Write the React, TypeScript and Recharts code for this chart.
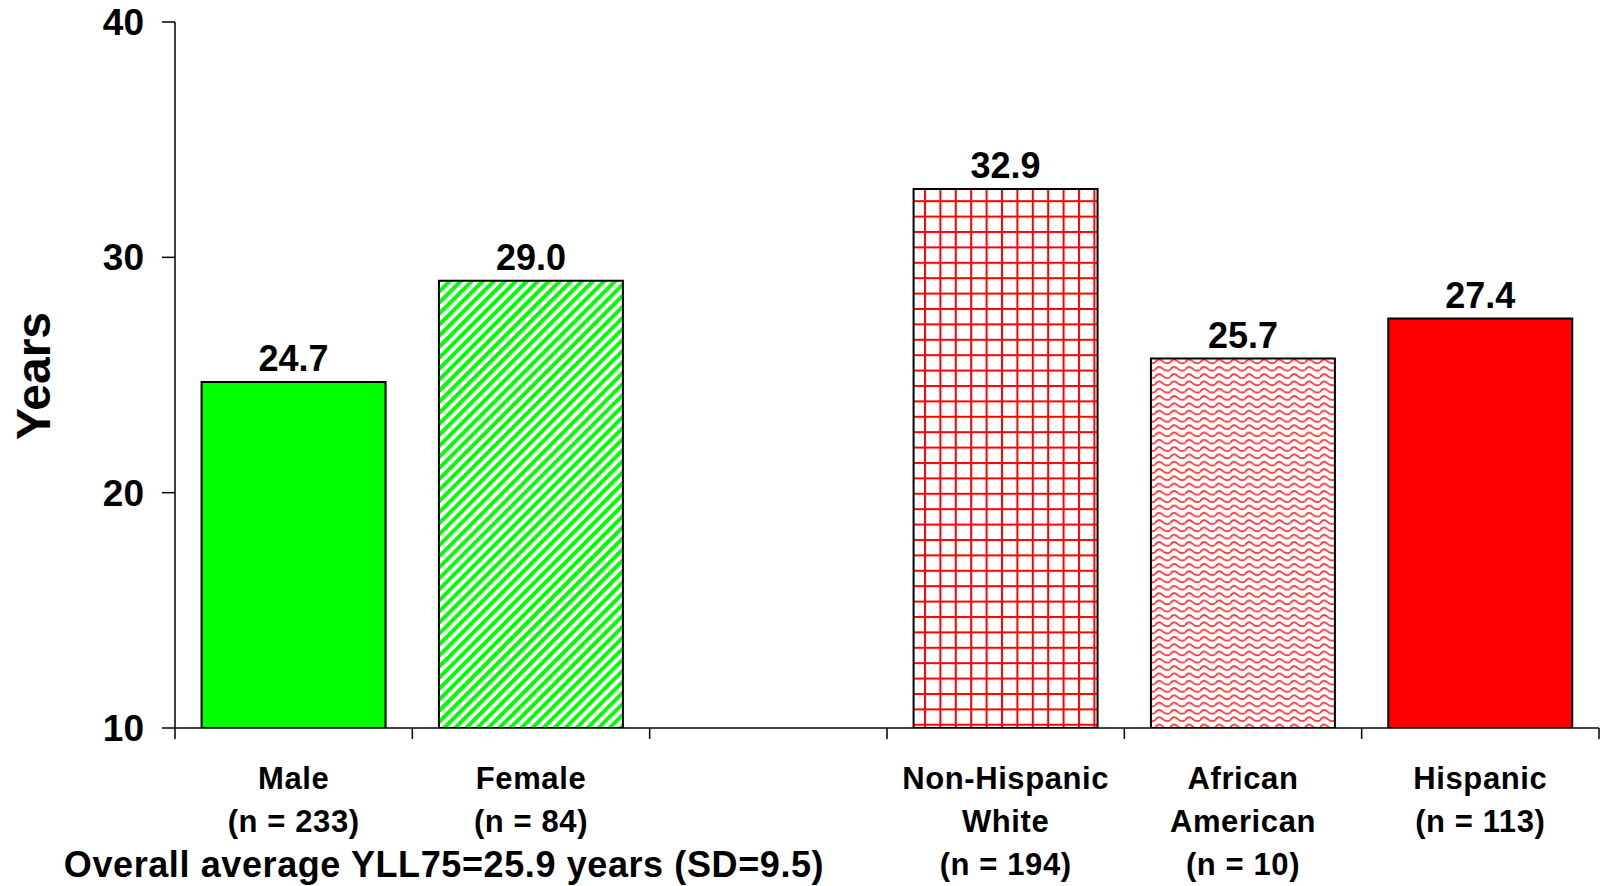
import React from "react";
import { BarChart, Bar, XAxis, YAxis, Cell, LabelList } from "recharts";

const categories = ["Male", "Female", "gap", "Non-Hispanic White", "African American", "Hispanic"];
const labelLines: string[][] = [
  ["Male", "(n = 233)"],
  ["Female", "(n = 84)"],
  [],
  ["Non-Hispanic", "White", "(n = 194)"],
  ["African", "American", "(n = 10)"],
  ["Hispanic", "(n = 113)"],
];
const values: (number | null)[] = [24.7, 29.0, null, 32.9, 25.7, 27.4];
const fills = ["#00FF00", "url(#diagGreen)", "none", "url(#gridRed)", "url(#waveRed)", "#FF0000"];
const yTicks = [10, 20, 30, 40];
const footnote = "Overall average YLL75=25.9 years (SD=9.5)";
const yLabel = "Years";

const data = categories.map((c, i) => ({ name: c, value: values[i] }));

const FONT = "'Liberation Sans', Arial, Helvetica, sans-serif";
const W = 1600;
const H = 886;
const Y_AXIS_W = 175;
const RIGHT = 1;

const XTick = (props: any) => {
  const { x, y, payload, index } = props;
  const half =
    payload && typeof payload.offset === "number" && payload.offset > 0
      ? payload.offset
      : (W - Y_AXIS_W - RIGHT) / categories.length / 2;
  const i = typeof index === "number" ? index : categories.indexOf(payload.value);
  const lines = labelLines[i] || [];
  return (
    <g>
      <line x1={x - half} x2={x - half} y1={y} y2={y + 11} stroke="#000" strokeWidth={1.5} />
      {i === categories.length - 1 && (
        <line x1={x + half} x2={x + half} y1={y} y2={y + 11} stroke="#000" strokeWidth={1.5} />
      )}
      {lines.map((l, k) => (
        <text
          key={k}
          x={x}
          y={y + 61 + k * 43}
          textAnchor="middle"
          fontFamily={FONT}
          fontWeight="bold"
          fontSize={31}
          letterSpacing={0.6}
          fill="#000"
        >
          {l}
        </text>
      ))}
    </g>
  );
};

const ValueLabel = (props: any) => {
  const { x, y, width, value } = props;
  if (value === null || value === undefined) return null;
  return (
    <text
      x={x + width / 2}
      y={y - 11}
      textAnchor="middle"
      fontFamily={FONT}
      fontWeight="bold"
      fontSize={36}
      fill="#000"
    >
      {Number(value).toFixed(1)}
    </text>
  );
};

export default function App() {
  return (
    <div style={{ position: "absolute", left: 0, top: 0, width: W, height: H, background: "#fff", overflow: "hidden" }}>
      <BarChart
        width={W}
        height={H}
        data={data}
        margin={{ top: 22, right: RIGHT, left: 0, bottom: 0 }}
        barCategoryGap="11.2%"
      >
        <defs>
          <pattern id="diagGreen" patternUnits="userSpaceOnUse" width={7.8} height={10} patternTransform="rotate(45)">
            <rect x={0} y={0} width={7.8} height={10} fill="#fff" />
            <rect x={0} y={0} width={3.9} height={10} fill="#00FF00" />
          </pattern>
          <pattern id="gridRed" patternUnits="userSpaceOnUse" width={15.4} height={15.4}>
            <rect x={0} y={0} width={15.4} height={15.4} fill="#fff" />
            <rect x={0} y={0} width={2} height={15.4} fill="#FF0000" />
            <rect x={0} y={0} width={15.4} height={2} fill="#FF0000" />
          </pattern>
          <pattern id="waveRed" patternUnits="userSpaceOnUse" width={15} height={7.3}>
            <rect x={0} y={0} width={15} height={7.3} fill="#fff" />
            <path d="M0,5 C2.5,1 5,1 7.5,3.5 S12.5,6 15,5" fill="none" stroke="#FF3838" strokeWidth={1.8} />
          </pattern>
        </defs>
        <XAxis
          dataKey="name"
          type="category"
          interval={0}
          height={H - 22 - 706}
          tickLine={false}
          tickSize={0}
          tickMargin={0}
          axisLine={{ stroke: "#000", strokeWidth: 1.5 }}
          tick={<XTick />}
        />
        <YAxis
          type="number"
          domain={[10, 40]}
          ticks={yTicks}
          allowDataOverflow
          width={Y_AXIS_W}
          tickSize={13}
          tickMargin={18}
          axisLine={{ stroke: "#000", strokeWidth: 1.5 }}
          tickLine={{ stroke: "#000", strokeWidth: 1.5 }}
          tick={{ fontFamily: FONT, fontWeight: "bold", fontSize: 37, fill: "#000" }}
        />
        <Bar dataKey="value" isAnimationActive={false} stroke="#000" strokeWidth={2}>
          {data.map((d, i) => (
            <Cell key={d.name} fill={fills[i]} />
          ))}
          <LabelList dataKey="value" content={<ValueLabel />} />
        </Bar>
        <text
          transform="translate(50,376) rotate(-90)"
          textAnchor="middle"
          fontFamily={FONT}
          fontWeight="bold"
          fontSize={48}
          fill="#000"
        >
          {yLabel}
        </text>
        <text
          x={444}
          y={877}
          textAnchor="middle"
          fontFamily={FONT}
          fontWeight="bold"
          fontSize={36}
          letterSpacing={0.6}
          fill="#000"
        >
          {footnote}
        </text>
      </BarChart>
    </div>
  );
}
